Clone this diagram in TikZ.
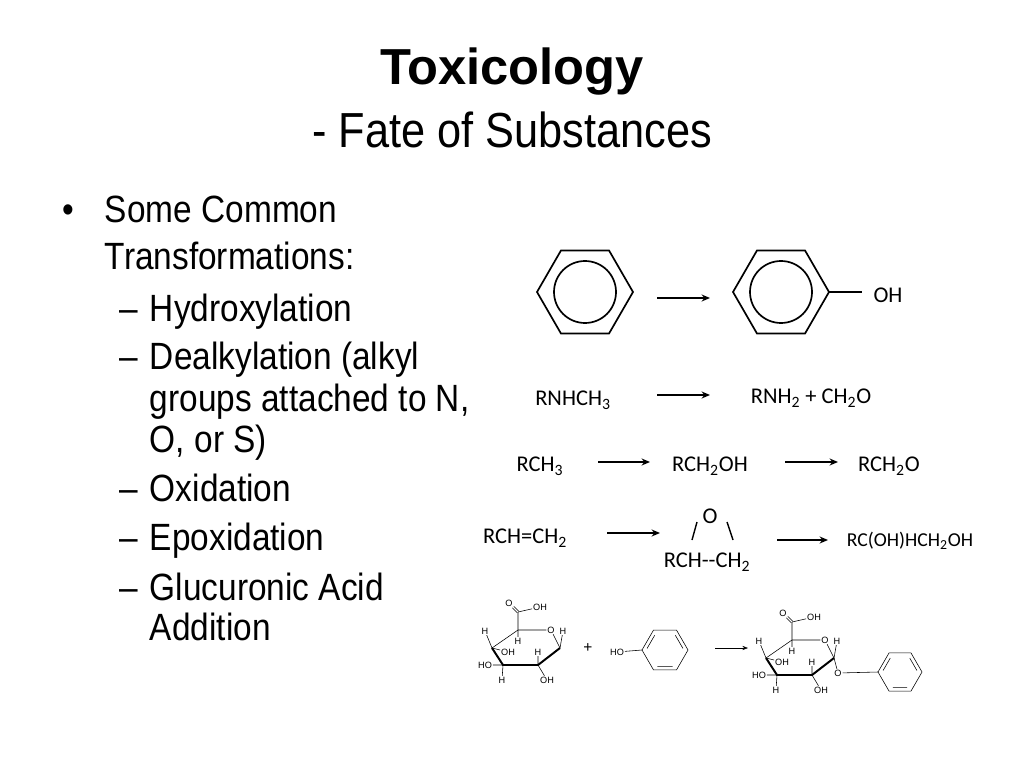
\documentclass[tikz,border=0pt]{standalone}
\usepackage{fontspec}
\setmainfont{Liberation Sans}
\newfontfamily\bodyfont[FakeStretch=0.88]{Liberation Sans}
\newfontfamily\chemfont{Carlito}
\usetikzlibrary{arrows.meta,calc}
\tikzset{
  body/.style={anchor=base west,font=\bodyfont\fontsize{27}{30}\selectfont},
  chem/.style={font=\chemfont\fontsize{16}{18}\selectfont,inner sep=1pt},
  tiny/.style={font=\fontsize{6.5}{7}\selectfont,inner sep=0.5pt},
  react/.style={-{Stealth[length=6pt,width=5pt]},line width=1pt},
  ring/.style={line width=1.2pt},
}
% sugar ring, shifted to C5
\newcommand\sugarring[2]{%
  \begin{scope}[shift={#1}]
    \coordinate (#2c5) at (0,0);
    \node[tiny] (#2o) at (33,0) {O};
    \coordinate (#2c1) at (42,18);
    \coordinate (#2c2) at (20,35);
    \coordinate (#2c3) at (-15,35);
    \coordinate (#2c4) at (-26,18);
    \coordinate (#2cc) at (0,-18);
    \node[tiny] (#2oa) at (-9,-27) {O};
    \node[tiny] (#2ob) at (22,-23) {OH};
    \draw[thin] (#2c4) -- (#2c5) -- (#2o) -- (#2c1);
    \draw[line width=1.4pt] (#2c4) -- (#2c3) -- (#2c2) -- (#2c1);
    \draw[thin] (#2c5) -- (#2cc) -- (#2ob);
    \draw[thin,double,double distance=1pt] (#2cc) -- (#2oa);
    \node[tiny] (#2h4) at (-33,1) {H};
    \node[tiny] (#2h5) at (0,11) {H};
    \node[tiny] (#2h1) at (45,1) {H};
    \node[tiny] (#2ho4) at (-10,22) {OH};
    \node[tiny] (#2oh3) at (-33,35) {HO};
    \node[tiny] (#2h3) at (-16,50) {H};
    \node[tiny] (#2h2) at (20,22) {H};
    \node[tiny] (#2oh2) at (29,50) {OH};
    \draw[thin] (#2c4) -- (#2h4) (#2c5) -- (#2h5) (#2c1) -- (#2h1)
      (#2c4) -- (#2ho4) (#2c3) -- (#2oh3) (#2c3) -- (#2h3)
      (#2c2) -- (#2h2) (#2c2) -- (#2oh2);
  \end{scope}}
\begin{document}
\begin{tikzpicture}[x=0.025cm,y=-0.025cm]
\useasboundingbox (0,0) rectangle (1024,768);
% title
\node[font=\bfseries\fontsize{36}{40}\selectfont] (title) at (512,72) {Toxicology};
\node[font=\bodyfont\fontsize{35}{38}\selectfont] (subtitle) at (512,130) {- Fate of Substances};
% bullet list
\node[body] (b0) at (58,222) {•};
\node[body] (l1) at (100,222) {Some Common};
\node[body] (l2) at (100,269) {Transformations:};
\foreach \y [count=\i] in {321,369,501,550,600}
  {\node[body] (d\i) at (115,\y) {–};}
\node[body] (t1) at (145,321) {Hydroxylation};
\node[body] (t2) at (145,369) {Dealkylation (alkyl};
\node[body] (t3) at (145,411) {groups attached to N,};
\node[body] (t4) at (145,452) {O, or S)};
\node[body] (t5) at (145,501) {Oxidation};
\node[body] (t6) at (145,550) {Epoxidation};
\node[body] (t7) at (145,600) {Glucuronic Acid};
\node[body] (t8) at (145,640) {Addition};
% hydroxylation
\draw[ring] (585,292) +(0:48) -- +(60:48) -- +(120:48) -- +(180:48) -- +(240:48) -- +(300:48) -- cycle;
\draw[ring] (585,292) circle[radius=31];
\draw[ring] (781,292) +(0:48) -- +(60:48) -- +(120:48) -- +(180:48) -- +(240:48) -- +(300:48) -- cycle;
\draw[ring] (781,292) circle[radius=31];
\node[chem] (oh) at (888,295) {OH};
\draw[ring] (829,292) -- (862,292);
\coordinate (a1s) at (657,298); \coordinate (a1e) at (710,298);
\draw[react] (a1s) -- (a1e);
% dealkylation
\node[chem] (rnhch3) at (573,400) {RNHCH\textsubscript{3}};
\node[chem] (rnh2) at (811,398) {RNH\textsubscript{2} + CH\textsubscript{2}O};
\draw[react] (657,395) -- (710,395);
% oxidation
\node[chem] (rch3) at (540,466) {RCH\textsubscript{3}};
\node[chem] (rch2oh) at (710,466) {RCH\textsubscript{2}OH};
\node[chem] (rch2o) at (889,466) {RCH\textsubscript{2}O};
\draw[react] (598,462) -- (650,462);
\draw[react] (785,462) -- (838,462);
% epoxidation
\node[chem] (alkene) at (525,538) {RCH=CH\textsubscript{2}};
\node[chem] (epo) at (710,516) {O};
\node[chem] (epc) at (707,562) {RCH--CH\textsubscript{2}};
\draw[line width=1pt] (692,540) -- (697,522) (727,522) -- (733,540);
\node[chem,font=\chemfont\fontsize{14}{16}\selectfont] (diol) at (910,541) {RC(OH)HCH\textsubscript{2}OH};
\draw[react] (607,533) -- (660,533);
\draw[react] (777,540) -- (828,540);
% glucuronic acid addition
\sugarring{(518,630)}{g}
\node[font=\fontsize{11}{12}\selectfont] (plus) at (588,648) {+};
\node[tiny] (pho) at (617,652) {HO};
\draw[thin] (665,650) +(180:23) -- +(120:23) -- +(60:23) -- +(0:23) -- +(-60:23) -- +(-120:23) -- cycle;
\draw[thin] (665,650) +(115:18) -- +(65:18) +(-5:18) -- +(-55:18) +(-125:18) -- +(-175:18);
\draw[thin] (pho) -- ($(665,650)+(180:23)$);
\draw[-{Stealth[length=4pt]},thin] (715,648) -- (748,648);
\sugarring{(792,640)}{p}
\node[tiny] (po) at (838,673) {O};
\draw[thin] (pc1) -- (po);
\draw[thin] (900,672) +(180:22) -- +(120:22) -- +(60:22) -- +(0:22) -- +(-60:22) -- +(-120:22) -- cycle;
\draw[thin] (900,672) +(115:17) -- +(65:17) +(-5:17) -- +(-55:17) +(-125:17) -- +(-175:17);
\draw[thin] (po) -- ($(900,672)+(180:22)$);
\end{tikzpicture}
\end{document}
